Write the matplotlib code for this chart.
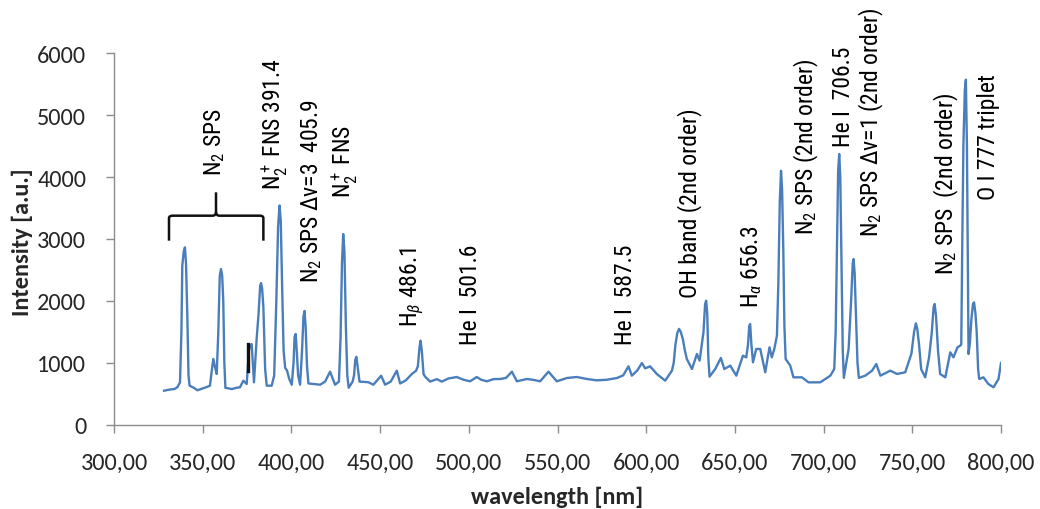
import matplotlib
matplotlib.use("Agg")
import matplotlib.pyplot as plt
from matplotlib.path import Path
from matplotlib.patches import PathPatch
from matplotlib import font_manager

# ---------------- data ----------------
wavelength = [
    328.2, 331.0, 334.0, 335.7, 337.2, 338.0, 338.5, 339.3, 340.0, 340.6, 341.3, 342.0, 342.6,
    345.0, 347.0, 350.0, 352.0, 354.1, 355.2, 356.0, 356.8, 357.9, 358.8, 359.6, 360.3, 361.0,
    361.6, 362.2, 362.8, 366.4, 369.0, 371.0, 372.9, 374.8, 376.1, 377.6, 378.9, 380.4, 381.5,
    382.4, 382.9, 383.5, 384.2, 385.2, 386.1, 388.9, 390.3, 391.5, 392.5, 393.3, 394.0, 394.8,
    395.6, 396.5, 397.5, 398.7, 400.2, 401.2, 401.8, 402.4, 403.0, 403.8, 404.9, 406.0, 406.8,
    407.4, 408.0, 408.8, 409.6, 413.0, 416.2, 419.0, 421.8, 424.6, 426.8, 427.7, 428.5, 429.2,
    429.9, 430.7, 431.5, 432.3, 434.5, 435.3, 436.0, 436.6, 437.3, 438.4, 443.4, 446.2, 450.6,
    452.8, 456.0, 459.4, 461.3, 464.5, 467.9, 470.3, 471.3, 472.2, 472.8, 473.5, 474.5, 475.4,
    478.2, 482.0, 484.8, 488.5, 493.2, 497.0, 500.7, 504.5, 507.0, 510.2, 514.0, 517.7, 521.0,
    524.3, 527.1, 532.7, 536.0, 540.2, 544.9, 549.6, 555.3, 560.9, 566.6, 572.2, 577.8, 583.5,
    587.0, 590.0, 591.9, 595.0, 597.6, 599.4, 602.2, 606.0, 610.7, 614.5, 615.5, 616.5, 617.5,
    618.5, 619.5, 620.7, 621.8, 622.9, 625.8, 628.6, 630.1, 632.3, 633.2, 633.8, 634.4, 635.0,
    635.7, 638.9, 642.1, 644.0, 647.4, 650.8, 654.5, 656.4, 657.4, 658.1, 658.6, 659.3, 660.2,
    662.0, 664.3, 667.1, 669.5, 670.8, 672.2, 673.7, 674.5, 675.3, 676.0, 676.6, 677.3, 677.9,
    678.6, 681.2, 683.0, 687.8, 691.5, 698.1, 703.8, 706.0, 706.8, 707.5, 708.2, 708.8, 709.4,
    710.1, 710.8, 711.4, 714.1, 715.5, 716.4, 716.9, 717.5, 718.3, 719.1, 719.9, 723.5, 727.3,
    729.7, 732.0, 735.7, 737.6, 741.4, 746.0, 749.5, 751.0, 752.0, 752.8, 753.8, 755.0, 757.3,
    759.5, 761.0, 762.0, 762.6, 763.4, 764.5, 765.7, 768.6, 771.4, 773.2, 775.5, 777.0, 777.6,
    778.2, 778.8, 779.6, 780.2, 780.8, 781.3, 781.7, 782.4, 783.3, 784.2, 784.8, 785.6, 786.3,
    787.1, 787.7, 790.1, 792.9, 795.8, 798.6, 800.0,
]
intensity = [
    553, 570, 580, 608, 688, 1500, 2570, 2800, 2866, 2600, 1800, 800, 634,
    600, 560, 590, 610, 634, 900, 1065, 950, 823, 1500, 2400, 2516, 2400,
    2000, 1000, 600, 580, 600, 608, 715, 661, 1226, 1306, 688, 1387, 1800,
    2250, 2290, 2200, 1900, 900, 634, 634, 800, 2000, 3200, 3540, 3300, 2200,
    1200, 920, 880, 750, 650, 1000, 1420, 1468, 1200, 800, 650, 1200, 1750,
    1840, 1600, 950, 670, 660, 650, 700, 860, 650, 700, 1400, 2600, 3080,
    2800, 1600, 800, 600, 700, 800, 1050, 1100, 950, 700, 690, 650, 795,
    650, 700, 876, 670, 720, 823, 876, 950, 1250, 1360, 1200, 820, 780,
    700, 740, 700, 750, 774, 730, 705, 774, 730, 705, 740, 742, 760,
    860, 705, 742, 730, 705, 860, 705, 758, 774, 742, 720, 730, 758,
    800, 946, 796, 880, 1000, 914, 946, 823, 715, 876, 1000, 1300, 1480,
    1550, 1500, 1380, 1200, 1065, 903, 1145, 1038, 1500, 1950, 2005, 1800, 1100,
    780, 903, 1081, 903, 957, 796, 1118, 1091, 1300, 1600, 1629, 1300, 1011,
    1226, 1226, 850, 1253, 1091, 1226, 1441, 2300, 3600, 4100, 3800, 2800, 1600,
    1065, 957, 769, 769, 688, 688, 796, 903, 1500, 2839, 4100, 4371, 4000,
    2600, 1200, 760, 1226, 2000, 2600, 2677, 2450, 1700, 1000, 760, 796, 876,
    984, 796, 850, 876, 823, 850, 1150, 1500, 1640, 1550, 1300, 900, 769,
    1100, 1500, 1900, 1952, 1750, 1200, 823, 769, 1172, 1091, 1253, 1280, 1300,
    3000, 4500, 5400, 5570, 4500, 2500, 1145, 1300, 1700, 1950, 1978, 1800, 1500,
    900, 742, 769, 661, 608, 742, 1000,
]

x_ticks = [300, 350, 400, 450, 500, 550, 600, 650, 700, 750, 800]
x_tick_labels = ["300,00", "350,00", "400,00", "450,00", "500,00", "550,00",
                 "600,00", "650,00", "700,00", "750,00", "800,00"]
y_ticks = [0, 1000, 2000, 3000, 4000, 5000, 6000]
y_tick_labels = ["0", "1000", "2000", "3000", "4000", "5000", "6000"]

# annotation labels: (text, wavelength position, intensity at text bottom)
label_texts = [
    r"$\mathrm{N}_2$ SPS",
    r"$\mathrm{N}_2^+$ FNS 391.4",
    r"$\mathrm{N}_2$ SPS Δv=3  405.9",
    r"$\mathrm{N}_2^+$ FNS",
    r"$\mathrm{H}_\beta$ 486.1",
    "He I  501.6",
    "He I  587.5",
    "OH band (2nd order)",
    r"$\mathrm{H}_\alpha$ 656.3",
    r"$\mathrm{N}_2$ SPS (2nd order)",
    "He I  706.5",
    r"$\mathrm{N}_2$ SPS Δv=1 (2nd order)",
    r"$\mathrm{N}_2$ SPS  (2nd order)",
    "O I 777 triplet",
]
label_wl = [356.4, 390.8, 411.1, 430.3, 468.0, 500.7, 588.1, 624.2, 659.2,
            690.2, 711.1, 726.9, 769.2, 792.8]
label_base = [4032, 3806, 2306, 3677, 1597, 1306, 1306, 2065, 1903,
              3081, 4500, 3048, 2435, 3645]

# brace over the N2 SPS group (wavelength span, heights)
brace_wl = [331.0, 357.5, 384.2]
brace_int = [2973, 3376, 3753]
marker_wl = 375.7
marker_int = [876, 1306]

# ---------------- fonts ----------------
names = {f.name for f in font_manager.fontManager.ttflist}


def pick(cands):
    for c in cands:
        if c in names:
            return c
    return "DejaVu Sans"


narrow = pick(["Liberation Sans Narrow", "Arial Narrow", "Roboto Condensed",
               "Archivo Narrow", "PT Sans Narrow", "Liberation Sans"])
calib = pick(["Carlito", "Calibri", "Lato", "Open Sans"])
tick_size = 17.5 if calib in ("Carlito", "Calibri") else 15.5
ann_size = 17 if narrow != "Liberation Sans" else 14

plt.rcParams["mathtext.fontset"] = "custom"
plt.rcParams["mathtext.rm"] = narrow
plt.rcParams["mathtext.it"] = narrow + ":italic"
plt.rcParams["mathtext.bf"] = narrow + ":bold"
plt.rcParams["mathtext.sf"] = narrow

fig = plt.figure(figsize=(10.4, 5.1), dpi=100)
ax = fig.add_axes([114 / 1040, 84 / 510, 887 / 1040, 372 / 510])

ax.plot(wavelength, intensity, color="#4A7EBB", lw=1.7, solid_joinstyle="round")

ax.set_xlim(300, 800)
ax.set_ylim(0, 6000)
ax.set_xticks(x_ticks)
ax.set_xticklabels(x_tick_labels)
ax.set_yticks(y_ticks)
ax.set_yticklabels(y_tick_labels)
for s in ["top", "right"]:
    ax.spines[s].set_visible(False)
for s in ["left", "bottom"]:
    ax.spines[s].set_color("#8C8C8C")
    ax.spines[s].set_linewidth(1.0)
ax.tick_params(axis="both", direction="out", length=6, width=1.0, color="#8C8C8C",
               labelsize=tick_size, labelcolor="#262626")
ax.tick_params(axis="x", pad=13)
ax.tick_params(axis="y", pad=14)
for lab in ax.get_xticklabels() + ax.get_yticklabels():
    lab.set_family(calib)

ax.set_xlabel("wavelength [nm]", fontsize=tick_size, fontweight="bold", family=calib,
              color="#262626")
ax.set_ylabel("Intensity [a.u.]", fontsize=tick_size, fontweight="bold", family=calib,
              color="#262626")
ax.xaxis.set_label_coords((557 - 114) / 887, (426 - 497) / 372)
ax.xaxis.label.set_va("center")
ax.yaxis.set_label_coords((22 - 114) / 887, (426 - 242) / 372)
ax.yaxis.label.set_va("center")
ax.yaxis.label.set_ha("center")

for txt, wl, base in zip(label_texts, label_wl, label_base):
    ax.text(wl, base, txt, rotation=90, ha="center", va="bottom",
            fontsize=ann_size, family=[narrow, "DejaVu Sans"], color="black")

# brace
x0, xm, x1 = brace_wl
yb, yh, yt = brace_int
dx = 2.0
dy = 200
verts = [
    (x0, yb), (x0, yh - dy * 0.2), (x0, yh), (x0 + dx, yh),
    (xm - dx, yh), (xm, yh), (xm, yh + dy * 0.3), (xm, yt),
]
codes = [Path.MOVETO, Path.LINETO, Path.CURVE3, Path.CURVE3,
         Path.LINETO, Path.CURVE3, Path.CURVE3, Path.LINETO]
ax.add_patch(PathPatch(Path(verts, codes), fill=False, lw=1.8, color="#111111"))
verts2 = [
    (x1, yb), (x1, yh - dy * 0.2), (x1, yh), (x1 - dx, yh),
    (xm + dx, yh), (xm, yh), (xm, yh + dy * 0.3),
]
codes2 = [Path.MOVETO, Path.LINETO, Path.CURVE3, Path.CURVE3,
          Path.LINETO, Path.CURVE3, Path.CURVE3]
ax.add_patch(PathPatch(Path(verts2, codes2), fill=False, lw=1.8, color="#111111"))

ax.plot([marker_wl, marker_wl], marker_int, color="#111111", lw=2.4)

fig.savefig("out.png", dpi=100)
